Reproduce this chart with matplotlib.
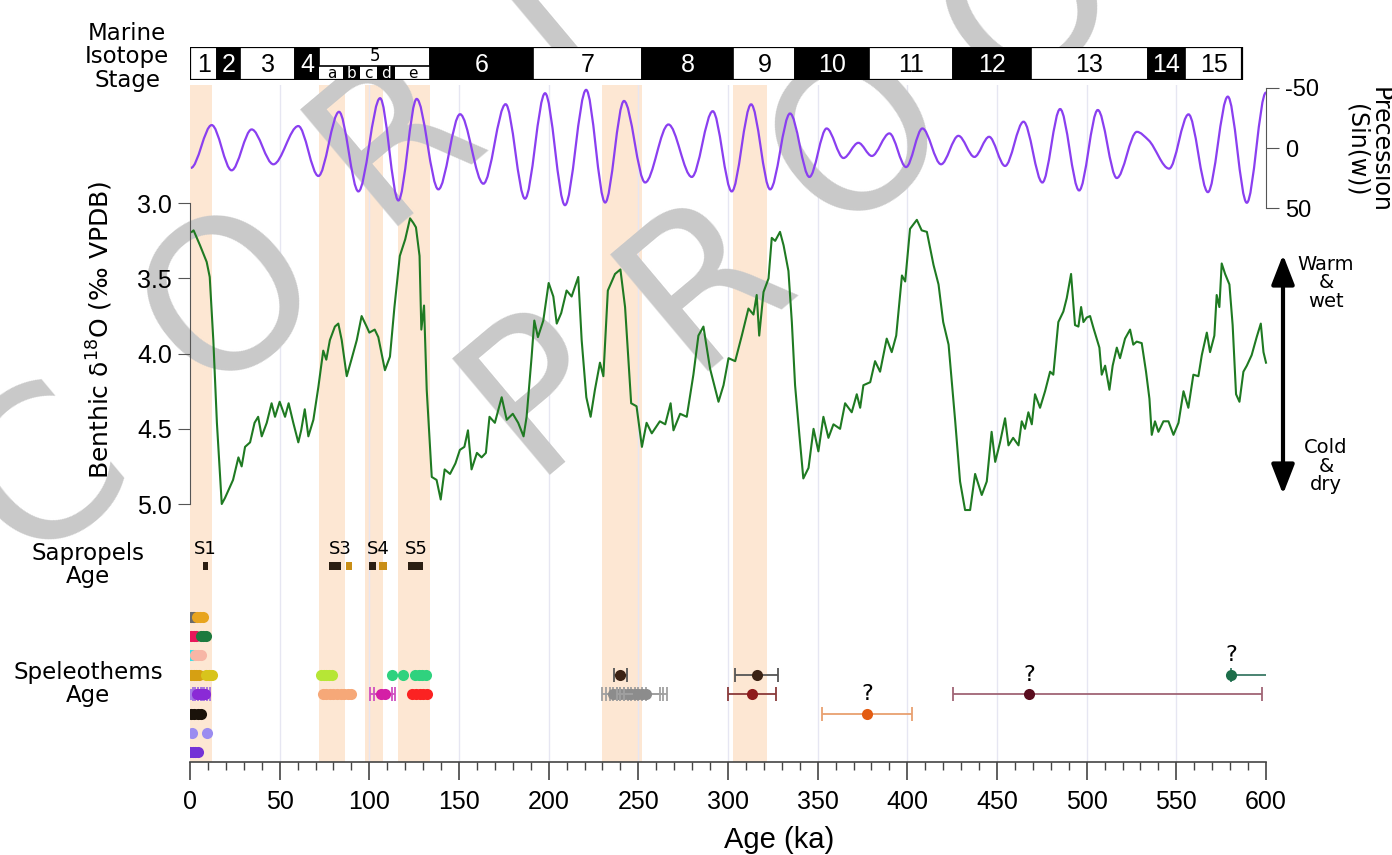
import numpy as np
import matplotlib
matplotlib.use("Agg")
import matplotlib.pyplot as plt
from matplotlib.path import Path
from matplotlib.patches import PathPatch, Rectangle, FancyArrowPatch

plt.rcParams['font.family'] = ['DejaVu Sans']
NUMFONT = 'Liberation Sans'

# --- 数据 ---
# Marine Isotope Stages
mis_bounds = [0, 15.2, 27.9, 58.6, 72.1, 133.8, 191, 252, 303, 337.5, 378.5, 425.5, 469, 534, 555, 586.5]
mis_labels = ['1', '2', '3', '4', '5', '6', '7', '8', '9', '10', '11', '12', '13', '14', '15']
sub_bounds = [72.1, 85.5, 94.8, 104, 114.3, 133.8]
sub_labels = ['a', 'b', 'c', 'd', 'e']

# 橙色阴影区间 (ka)
band_start = [0, 72, 97.5, 116, 230, 303]
band_end = [12, 86.5, 107.5, 134, 252, 322]

# 岁差曲线的极值点 (ka, 值)
prec_age = [0.5, 12.1, 23.2, 34.4, 46.5, 60.4, 71.6, 83.1, 93.9, 106, 116.2, 126.4, 138.5, 150.6,
            163.6, 176, 186.8, 198, 209.1, 220.9, 231.5, 242, 253.8, 266.8, 279.8, 291.5, 302.1,
            312.9, 323.5, 334.6, 345.4, 355, 364.4, 372.7, 380.2, 390, 399.3, 408.4, 418.8, 428.5,
            437.4, 445.6, 454.5, 464.8, 475.3, 485.2, 495.8, 506.2, 516.8, 528, 534.5, 546, 556.8,
            567.6, 578.7, 589.3, 600]
prec_val = [16.5, -19, 18.5, -15.4, 13.5, -18.2, 23.2, -30, 36, -41.3, 43.5, -40.7, 34.3, -28,
            29.6, -36.3, 42, -45.4, 47.4, -48.2, 45.2, -39, 28.6, -19.5, 24, -30.5, 36,
            -36.2, 34.3, -28.6, 24, -16.2, 8.3, -4.3, 6.6, -12.1, 15.8, -16.2, 13.5, -10.1,
            7.4, -9.3, 14.9, -21.8, 28.6, -32.3, 35.2, -31.5, 24.9, -13.4, -6.5, 17.1, -27.9,
            36.6, -42.6, 45.4, -46]

# 底栖有孔虫 δ18O
d18o_age = [1, 2, 5.6, 9.3, 11, 13, 15, 17.7, 19.5, 21.4, 24, 27, 28.8, 30.7, 33.5, 36, 38, 40,
            42.8, 45.5, 47.4, 50, 53, 55, 57.6, 60.4, 62, 64, 66, 68.8, 71.6, 74.3, 76, 78, 80.8,
            82.7, 84.6, 87.4, 90, 93, 95.7, 98.5, 100, 103, 105, 108.7, 111.5, 114, 117, 120,
            122.7, 124.5, 126, 128, 129, 130.5, 132, 134.8, 137.5, 139.8, 142, 145, 148, 150.5,
            153, 155, 157, 160, 162.6, 165, 167, 170, 173.8, 176.6, 180, 183, 186, 187.7, 190.5,
            192, 194, 197, 200, 202.6, 204.5, 207, 210, 212.8, 216.5, 218.4, 221, 223.4, 225.8,
            228.6, 230.5, 233, 237, 240, 242.6, 246, 249, 252, 254.6, 257.5, 262, 265, 268,
            269.6, 273.3, 277, 280.7, 283.5, 286.3, 290, 292.8, 294.7, 297.5, 300.3, 304, 307.7,
            311.4, 314.2, 316, 317.4, 319.8, 322.6, 324.4, 326.3, 329, 331, 333.7, 335.6, 337.4,
            339.8, 342, 344.9, 347.7, 350.4, 353.2, 356, 358.8, 362.5, 365.3, 369, 371.8, 373.7,
            375.5, 379.3, 382, 384.8, 388.5, 391.3, 393.8, 397, 398.8, 401.5, 405.3, 408, 410.9,
            414.6, 417.4, 420, 423, 424.8, 426.7, 429.4, 432.2, 435, 437.8, 441.5, 444.3, 447,
            449, 451.7, 454.5, 456.4, 459, 462, 463.8, 465.6, 467.5, 469.4, 471.2, 474, 476.8,
            479.6, 481.4, 484.2, 487, 488.9, 491.3, 493.5, 495.4, 496.9, 498.2, 500, 501.9,
            503.8, 505.6, 507.1, 508.4, 510.3, 512.7, 514.5, 516.8, 518.6, 521.4, 524.2, 526,
            527.9, 530.7, 533.1, 535, 536.3, 538.1, 540, 542.8, 545.6, 548.4, 551.2, 554, 556.7,
            559.5, 562.3, 564.2, 567, 568.8, 571.2, 572.5, 574, 575.3, 577.2, 579.6, 581.4,
            583.3, 585.2, 587.4, 589.3, 592, 594.8, 597.1, 598.6, 600]
d18o_val = [3.19, 3.18, 3.28, 3.39, 3.49, 3.91, 4.46, 5.0, 4.96, 4.91, 4.84, 4.69, 4.75, 4.62, 4.59,
            4.46, 4.42, 4.55, 4.46, 4.33, 4.42, 4.32, 4.42, 4.33, 4.46, 4.59, 4.51, 4.37, 4.55,
            4.44, 4.22, 3.98, 4.04, 3.91, 3.82, 3.80, 3.91, 4.15, 4.04, 3.91, 3.75, 3.82, 3.86,
            3.84, 3.89, 4.11, 4.02, 3.69, 3.35, 3.24, 3.10, 3.13, 3.16, 3.35, 3.84, 3.68, 4.24,
            4.82, 4.84, 4.97, 4.77, 4.80, 4.73, 4.64, 4.62, 4.51, 4.77, 4.66, 4.69, 4.66, 4.42,
            4.46, 4.29, 4.44, 4.40, 4.46, 4.55, 4.42, 4.02, 3.78, 3.89, 3.78, 3.53, 3.62, 3.80,
            3.73, 3.58, 3.62, 3.49, 3.91, 4.29, 4.42, 4.24, 4.06, 4.15, 3.58, 3.47, 3.44, 3.69,
            4.33, 4.35, 4.62, 4.46, 4.53, 4.45, 4.47, 4.33, 4.51, 4.40, 4.42, 4.14, 3.88, 3.82,
            4.10, 4.23, 4.32, 4.21, 4.03, 4.05, 3.88, 3.70, 3.74, 3.61, 3.88, 3.59, 3.50, 3.23,
            3.25, 3.19, 3.28, 3.45, 3.79, 4.21, 4.54, 4.83, 4.76, 4.50, 4.65, 4.42, 4.56, 4.47,
            4.50, 4.33, 4.39, 4.27, 4.36, 4.21, 4.19, 4.05, 4.12, 3.90, 3.99, 3.88, 3.48, 3.52,
            3.17, 3.11, 3.18, 3.19, 3.41, 3.54, 3.79, 3.94, 4.19, 4.45, 4.85, 5.04, 5.04, 4.80,
            4.94, 4.85, 4.52, 4.72, 4.59, 4.43, 4.61, 4.56, 4.61, 4.45, 4.50, 4.39, 4.47, 4.27,
            4.36, 4.25, 4.12, 4.14, 3.79, 3.72, 3.63, 3.47, 3.81, 3.82, 3.69, 3.79, 3.76, 3.75,
            3.83, 3.90, 3.96, 4.14, 4.08, 4.24, 4.08, 3.96, 4.03, 3.90, 3.84, 3.94, 3.92, 3.93,
            4.12, 4.30, 4.54, 4.45, 4.52, 4.45, 4.45, 4.54, 4.46, 4.25, 4.36, 4.14, 4.15, 4.01,
            3.86, 3.99, 3.88, 3.61, 3.69, 3.40, 3.47, 3.54, 3.81, 4.27, 4.32, 4.12, 4.08, 4.01,
            3.89, 3.80, 3.99, 4.06]

# 腐泥层 (sapropels)
sap_names = ['S1', 'S3', 'S4', 'S5']
sap_start = [[7.0], [77.5, 86.8], [100.0, 105.4], [121.8]]
sap_end = [[10.3], [84.0, 90.5], [103.7, 109.7], [130.1]]

# 洞穴沉积物 (speleothems)，每组：行号、年龄、误差
spel_row = [1, 1, 2, 2, 3, 3, 4, 4, 4, 4, 4, 4, 4,
            5, 5, 5, 5, 5, 5, 5, 5, 5, 6, 6, 7, 8]
spel_age = [[0.5, 1.5, 2.5], [4, 5.5, 7],
            [0.5, 2, 3.5], [6, 7.5, 9],
            [0, 1.5], [3, 4.5, 6],
            [0.5, 2, 3.5, 5], [9, 10.5, 12], [73, 74.5, 76, 77.5, 79],
            [112.5, 119, 125.5, 127.5, 129.5, 131.5], [240], [316], [580.5],
            [0, 1.5], [4, 5.5, 7, 8.5], [74, 76, 78, 80, 82, 84, 86, 88, 90],
            [106.5, 108.5], [124, 126, 128, 130, 132],
            [236, 238, 240, 242, 244, 246, 248], [250, 252, 254], [313.5], [468],
            [0.5, 2.5, 4.5, 6], [377.5],
            [1, 9.5],
            [0, 1.5, 3, 4.5]]
spel_err_lo = [0, 0, 0, 0, 0, 0, 0, 0, 0, 0, 3.5, 12, 0,
               0, 2.5, 0, 6, 0, 6, 12, 13.5, 42.5, 0, 25, 0, 0]
spel_err_hi = [0, 0, 0, 0, 0, 0, 0, 0, 0, 0, 3.5, 12, 25,
               0, 2.5, 0, 6, 0, 6, 12, 13.5, 130, 0, 25, 0, 0]
spel_query = [12, 21, 23]

spel_colors = ['#6b6b6b', '#e8a41e', '#e8185a', '#1d7a3e', '#35e2ea', '#f7b6a6',
               '#d6a012', '#d8c41c', '#b6e636', '#2fd27e', '#3b2214', '#3b2214', '#1d6e4a',
               '#a57ae6', '#8a2ad6', '#f6a878', '#d41fa6', '#fb2222', '#8c8c8c', '#8c8c8c',
               '#8e1c1c', '#5a0c1e', '#1a120a', '#e35c12', '#9b8cf0', '#7432d6']
err_colors = ['#888888', '#888888', '#888888', '#888888', '#888888', '#888888',
              '#888888', '#888888', '#888888', '#888888', '#555555', '#555555', '#3a7a66',
              '#888888', '#a070e0', '#888888', '#d050c0', '#888888', '#a0a0a0', '#a0a0a0',
              '#8a3a3a', '#a06575', '#888888', '#e8a070', '#888888', '#888888']

W_PX, H_PX = 1392, 855


def box(top, bottom, left=190, right=1266):
    return [left / W_PX, 1 - bottom / H_PX, (right - left) / W_PX, (bottom - top) / H_PX]


def smooth_curve(x, y):
    # 单调三次曲线 (PCHIP) 经过读取的极值点，以 Bezier 段绘制
    x = np.asarray(x, float)
    y = np.asarray(y, float)
    h = np.diff(x)
    d = np.diff(y) / h
    m = np.zeros_like(y)
    for k in range(1, len(x) - 1):
        if d[k - 1] * d[k] > 0:
            w1 = 2 * h[k] + h[k - 1]
            w2 = h[k] + 2 * h[k - 1]
            m[k] = (w1 + w2) / (w1 / d[k - 1] + w2 / d[k])
    verts = [(x[0], y[0])]
    codes = [Path.MOVETO]
    for k in range(len(h)):
        verts += [(x[k] + h[k] / 3, y[k] + m[k] * h[k] / 3),
                  (x[k + 1] - h[k] / 3, y[k + 1] - m[k + 1] * h[k] / 3),
                  (x[k + 1], y[k + 1])]
        codes += [Path.CURVE4] * 3
    return Path(verts, codes)


fig = plt.figure(figsize=(W_PX / 100, H_PX / 100), dpi=100)

# 背景：阴影带和竖直网格线
ax_bg = fig.add_axes(box(85, 762), zorder=-2)
ax_bg.set_xlim(0, 600)
ax_bg.set_ylim(0, 1)
ax_bg.axis('off')
for s, e in zip(band_start, band_end):
    ax_bg.axvspan(s, e, color='#fde7d3', lw=0)
for g in range(50, 600, 50):
    ax_bg.axvline(g, color='#e6e6f2', lw=1)

# 水印
wm = [('C', 45, 475), ('O', 232, 300), ('R', 395, 135), ('R', 560, -30),
      ('P', 540, 390), ('R', 705, 280), ('O', 860, 140), ('O', 1030, 5), ('F', 1200, -130)]
for ch, px, py in wm:
    fig.text(px / W_PX, 1 - py / H_PX, ch, rotation=40, ha='center', va='center',
             fontsize=150, color='#c9c9c9', zorder=-1)

# MIS 条
ax_mis = fig.add_axes(box(47.3, 80))
ax_mis.set_xlim(0, 600)
ax_mis.set_ylim(0, 1)
ax_mis.axis('off')
for i, lab in enumerate(mis_labels):
    s, e = mis_bounds[i], mis_bounds[i + 1]
    dark = (i % 2 == 1)
    fc = 'black' if dark else 'white'
    ax_mis.add_patch(Rectangle((s, 0), e - s, 1, facecolor=fc, edgecolor='black', lw=1.2))
    if lab == '5':
        ax_mis.text((s + e) / 2, 0.72, lab, ha='center', va='center', fontsize=12)
        ax_mis.plot([s, e], [0.43, 0.43], color='black', lw=1.2)
        for j, sl in enumerate(sub_labels):
            ss, se = sub_bounds[j], sub_bounds[j + 1]
            sdark = (j % 2 == 1)
            ax_mis.add_patch(Rectangle((ss, 0), se - ss, 0.43,
                                       facecolor='black' if sdark else 'white', lw=0))
            ax_mis.text((ss + se) / 2, 0.19, sl, ha='center', va='center', fontsize=11,
                        color='white' if sdark else 'black')
    else:
        ax_mis.text((s + e) / 2, 0.47, lab, ha='center', va='center', fontsize=18,
                    color='white' if dark else 'black', family=NUMFONT)
ax_mis.add_patch(Rectangle((0, 0), mis_bounds[-1], 1, fill=False, edgecolor='black', lw=1.6))

# 岁差
ax_p = fig.add_axes(box(87.7, 208.3))
ax_p.set_facecolor('none')
ax_p.set_xlim(0, 600)
ax_p.set_ylim(50, -50)
ax_p.add_patch(PathPatch(smooth_curve(prec_age, prec_val), fill=False,
                         edgecolor='#8a3ff0', lw=1.6, clip_on=False))
for sp in ['left', 'top', 'bottom']:
    ax_p.spines[sp].set_visible(False)
ax_p.spines['right'].set_color('#555555')
ax_p.yaxis.tick_right()
ax_p.set_xticks([])
ax_p.set_yticks([-50, 0, 50])
ax_p.set_yticklabels(['-50', '0', '50'])
ax_p.tick_params(axis='y', length=9, color='#555555', labelsize=17, pad=5,
                 labelfontfamily=NUMFONT)

# δ18O
ax_d = fig.add_axes(box(203.3, 504))
ax_d.set_facecolor('none')
ax_d.set_xlim(0, 600)
ax_d.set_ylim(5.0, 3.0)
ax_d.plot(d18o_age, d18o_val, color='#1f7a22', lw=1.5, clip_on=False)
for sp in ['right', 'top', 'bottom']:
    ax_d.spines[sp].set_visible(False)
ax_d.spines['left'].set_color('#555555')
ax_d.set_xticks([])
ax_d.set_yticks([3.0, 3.5, 4.0, 4.5, 5.0])
ax_d.set_yticklabels(['3.0', '3.5', '4.0', '4.5', '5.0'])
ax_d.tick_params(axis='y', length=9, color='#555555', labelsize=18, pad=4,
                 labelfontfamily=NUMFONT)

# 腐泥层 + 洞穴沉积物
ax_s = fig.add_axes(box(525, 762))
ax_s.set_facecolor('none')
ax_s.set_xlim(0, 600)
ax_s.set_ylim(8.5, -3.72)
sap_y = -1.61
for name, ss, ee in zip(sap_names, sap_start, sap_end):
    for k, (a, b) in enumerate(zip(ss, ee)):
        ax_s.add_patch(Rectangle((a, sap_y - 0.22), b - a, 0.44,
                                 facecolor='#2b1e12' if k == 0 else '#c98e16', lw=0))
    ax_s.text((ss[0] + ee[-1]) / 2, sap_y - 0.85, name, ha='center', va='center', fontsize=13)

for i, ages in enumerate(spel_age):
    r = spel_row[i]
    if spel_err_lo[i] > 0 or spel_err_hi[i] > 0:
        ax_s.errorbar(ages, [r] * len(ages),
                      xerr=[[spel_err_lo[i]] * len(ages), [spel_err_hi[i]] * len(ages)],
                      fmt='none', ecolor=err_colors[i], elinewidth=1.3, capsize=5, capthick=1.3)
    ax_s.plot(ages, [r] * len(ages), 'o', color=spel_colors[i], ms=8, mec='none')
for i in spel_query:
    ax_s.text(spel_age[i][0], spel_row[i] - 1.0, '?', ha='center', va='center', fontsize=16)

for sp in ['left', 'right', 'top']:
    ax_s.spines[sp].set_visible(False)
ax_s.spines['bottom'].set_color('#444444')
ax_s.spines['bottom'].set_linewidth(1.2)
ax_s.set_yticks([])
ax_s.set_xticks(np.arange(0, 601, 50))
ax_s.set_xticks(np.arange(0, 601, 10), minor=True)
ax_s.tick_params(axis='x', which='major', length=13, width=1.2, color='#444444',
                 labelsize=18, pad=7, labelfontfamily=NUMFONT)
ax_s.tick_params(axis='x', which='minor', length=6, width=1.0, color='#444444')

# 文字标签
fig.text(127 / W_PX, 1 - 57 / H_PX, 'Marine\nIsotope\nStage', ha='center', va='center',
         fontsize=16.5, linespacing=1.0)
fig.text(88 / W_PX, 1 - 565 / H_PX, 'Sapropels\nAge', ha='center', va='center',
         fontsize=16.5, linespacing=1.0)
fig.text(88 / W_PX, 1 - 684 / H_PX, 'Speleothems\nAge', ha='center', va='center',
         fontsize=16.5, linespacing=1.0)
fig.text(100 / W_PX, 1 - 330 / H_PX, 'Benthic δ$^{18}$O (‰ VPDB)', rotation=90,
         ha='center', va='center', fontsize=18)
fig.text(1368 / W_PX, 1 - 150 / H_PX, 'Precession\n(Sin(w))', rotation=270,
         ha='center', va='center', fontsize=17, linespacing=0.95)
fig.text(779 / W_PX, 1 - 840 / H_PX, 'Age (ka)', ha='center', va='center',
         fontsize=21, family=NUMFONT)
fig.text(1326 / W_PX, 1 - 283 / H_PX, 'Warm\n&\nwet', ha='center', va='center',
         fontsize=14, linespacing=0.95)
fig.text(1326 / W_PX, 1 - 466 / H_PX, 'Cold\n&\ndry', ha='center', va='center',
         fontsize=14, linespacing=0.95)
fig.patches.append(FancyArrowPatch((1283 / W_PX, 1 - 252 / H_PX), (1283 / W_PX, 1 - 497 / H_PX),
                                   arrowstyle='<|-|>,head_length=0.9,head_width=0.35',
                                   mutation_scale=20, lw=3, color='black',
                                   transform=fig.transFigure))

fig.savefig('out.png', dpi=100)
